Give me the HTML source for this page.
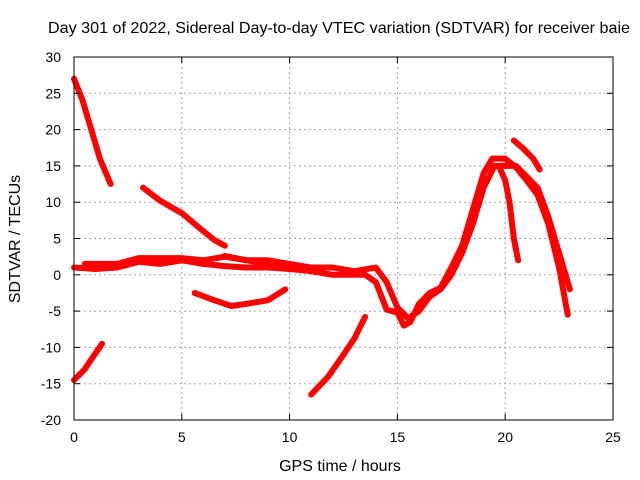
<!DOCTYPE html>
<html><head><meta charset="utf-8"><style>
body{margin:0;background:#fff}
svg{display:block;font-family:"Liberation Sans",sans-serif}
</style></head><body>
<svg id="chart" width="640" height="480" xmlns="http://www.w3.org/2000/svg">
<text x="339" y="33" font-size="16" text-anchor="middle" textLength="582" lengthAdjust="spacingAndGlyphs">Day 301 of 2022, Sidereal Day-to-day VTEC variation (SDTVAR) for receiver baie</text>
<text x="340" y="471" font-size="16" text-anchor="middle">GPS time / hours</text>
<text transform="translate(20,239) rotate(-90)" font-size="16" text-anchor="middle">SDTVAR / TECUs</text>
<g id="grid"></g><g id="marks"></g><g id="axes"></g>
</svg>
<script>
const xTicks=[0,5,10,15,20,25];
const yTicks=[-20,-15,-10,-5,0,5,10,15,20,25,30];
const track1X=[0,0.4,0.8,1.2,1.7], track1Y=[27,24,20,16,12.5];
const track2X=[0,0.5,1,1.3], track2Y=[-14.5,-13,-10.8,-9.5];
const track3X=[3.2,4,5,5.8,6.5,7], track3Y=[12,10.2,8.5,6.5,4.8,4];
const track4X=[5.6,6.5,7.3,8,9,9.8], track4Y=[-2.5,-3.5,-4.3,-4,-3.5,-2];
const track5X=[11,11.8,12.5,13,13.5], track5Y=[-16.5,-14,-11,-8.8,-5.8];
const track6X=[0,1,2,3,4,5,6,7,8,9,10,11,12,13,13.5,14,14.5,15,15.3,15.6,16,16.5,17,17.5,18,18.5,19,19.4,20,20.5,21,21.5,22,22.5,22.9];
const track6Y=[1,0.8,1,1.8,1.5,2,1.5,1.2,1,1,0.8,0.5,0,0,0,-1,-4.8,-5.2,-7,-6.5,-4,-2.5,-1.8,1,4,9,14,16,16,14.8,13,11,7,1,-5.5];
const track7X=[0.5,2,3,5,6,7,8,9,10,11,12,13,14,14.5,15,15.5,16,16.5,17,17.5,18,18.5,19,19.5,20,20.5,21,21.5,22,22.5,23];
const track7Y=[1.5,1.5,2.3,2.3,2,2.5,2,2,1.5,1,1,0.5,1,-1,-4.5,-6,-5,-3,-2,0,3,7,12,15,15,15,13.5,12,8,3,-2];
const track8X=[19.7,20,20.2,20.4,20.6], track8Y=[15,13,10,5,2];
const track9X=[20.4,20.8,21.3,21.6], track9Y=[18.5,17.5,16,14.5];
const track10X=[7,8,9,10], track10Y=[2.6,2,1.5,1.2];
const tracks=[[track1X,track1Y],[track2X,track2Y],[track3X,track3Y],[track4X,track4Y],[track5X,track5Y],[track6X,track6Y],[track7X,track7Y],[track8X,track8Y],[track9X,track9Y],[track10X,track10Y]];
const X0=74,X1=613,Y0=420,Y1=57;
const sx=v=>X0+(v/25)*(X1-X0);
const sy=v=>Y0-((v+20)/50)*(Y0-Y1);
const NS="http://www.w3.org/2000/svg";
function mk(tag,parent,attrs){const e=document.createElementNS(NS,tag);for(const k in attrs)e.setAttribute(k,attrs[k]);parent.appendChild(e);return e;}
const grid=document.getElementById('grid'),axes=document.getElementById('axes'),marks=document.getElementById('marks');
xTicks.forEach(t=>{
  const x=sx(t);
  if(t>0&&t<25){const l=mk('line',grid,{x1:x,x2:x,y1:Y1,y2:Y0,stroke:'#a0a0a0','stroke-dasharray':'2,3'});
  
  }
  mk('line',axes,{x1:x,x2:x,y1:Y0,y2:Y0-6,stroke:'#000'});
  mk('line',axes,{x1:x,x2:x,y1:Y1,y2:Y1+6,stroke:'#000'});
  const tx=mk('text',axes,{x:x,y:Y0+22,'font-size':14,'text-anchor':'middle'});tx.textContent=t;
  
  
});
yTicks.forEach(t=>{
  const y=sy(t);
  if(t>-20&&t<30){const l=mk('line',grid,{x1:X0,x2:X1,y1:y,y2:y,stroke:'#a0a0a0','stroke-dasharray':'2,3'});
  
  }
  mk('line',axes,{x1:X0,x2:X0+6,y1:y,y2:y,stroke:'#000'});
  mk('line',axes,{x1:X1,x2:X1-6,y1:y,y2:y,stroke:'#000'});
  const tx=mk('text',axes,{x:X0-13,y:y+5,'font-size':14,'text-anchor':'end'});tx.textContent=t;
  
  
});
const frame=mk('rect',axes,{x:X0,y:Y1,width:X1-X0,height:Y0-Y1,fill:'none',stroke:'#000'});


tracks.forEach(([xs,ys])=>{
  const pts=xs.map((v,i)=>sx(v)+','+sy(ys[i])).join(' ');
  const p=mk('polyline',marks,{points:pts,fill:'none',stroke:'#ff0000','stroke-width':6,'stroke-linejoin':'round','stroke-linecap':'round'});
  
  
});
</script>
</body></html>
